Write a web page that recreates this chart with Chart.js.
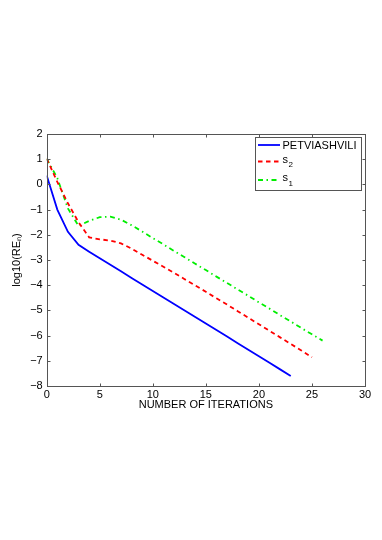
<!DOCTYPE html>
<html>
<head>
<meta charset="utf-8">
<script src="https://cdn.jsdelivr.net/npm/chart.js@4.4.0/dist/chart.umd.min.js"></script>
<style>
  html, body { margin: 0; padding: 0; background: #fff; }
</style>
</head>
<body>
<canvas id="errChart" width="382" height="540"></canvas>
<script>
// values
const iterations = [0, 1, 2, 3, 4, 5, 6, 7, 8, 9, 10, 11, 12, 13, 14, 15, 16, 17, 18, 19, 20, 21, 22, 23, 24, 25, 26];
const petviashvili = [0.35, -1.0, -1.88, -2.4, -2.67, -2.93, -3.19, -3.45, -3.71, -3.97, -4.23, -4.49, -4.75,
    -5.0, -5.26, -5.52, -5.78, -6.04, -6.3, -6.56, -6.82, -7.08, -7.34, -7.6];
const s2 = [1.02, 0.1, -0.75, -1.5, -2.1, -2.18, -2.23, -2.34, -2.55, -2.79, -3.03, -3.27, -3.51, -3.76,
    -4.01, -4.26, -4.52, -4.77, -5.03, -5.29, -5.55, -5.81, -6.07, -6.33, -6.59, -6.86];
const s1 = [1.02, 0.25, -0.95, -1.65, -1.45, -1.3, -1.28, -1.4, -1.62, -1.87, -2.13, -2.38, -2.64, -2.89,
    -3.15, -3.4, -3.66, -3.91, -4.17, -4.42, -4.68, -4.93, -5.19, -5.44, -5.7, -5.95, -6.2];
const xTicks = [0, 5, 10, 15, 20, 25, 30];
const yTicks = [-8, -7, -6, -5, -4, -3, -2, -1, 0, 1, 2];

const FONT = '"Liberation Sans", Arial, sans-serif';
const axisColor = '#555';

function toPoints(values) {
    return values.map((v, i) => ({ x: iterations[i], y: v }));
}

// matlab style box, inward ticks and legend inside the axes
const matlabBox = {
    id: 'matlabBox',
    afterDatasetsDraw(chart) {
        const { ctx, chartArea: a, scales } = chart;
        const L = Math.round(a.left) + 0.5, R = Math.round(a.right) + 0.5;
        const T = Math.round(a.top) + 0.5, B = Math.round(a.bottom) + 0.5;
        ctx.save();
        ctx.strokeStyle = axisColor;
        ctx.lineWidth = 1;
        ctx.strokeRect(L, T, R - L, B - T);
        ctx.beginPath();
        xTicks.forEach(v => {
            const px = Math.round(scales.x.getPixelForValue(v)) + 0.5;
            ctx.moveTo(px, B); ctx.lineTo(px, B - 3);
            ctx.moveTo(px, T); ctx.lineTo(px, T + 3);
        });
        yTicks.forEach(v => {
            const py = Math.round(scales.y.getPixelForValue(v)) + 0.5;
            ctx.moveTo(L, py); ctx.lineTo(L + 3, py);
            ctx.moveTo(R, py); ctx.lineTo(R - 3, py);
        });
        ctx.stroke();

        // legend
        const box = { x: 255.5, y: 137.5, w: 106, h: 53 };
        ctx.fillStyle = '#fff';
        ctx.fillRect(box.x, box.y, box.w, box.h);
        ctx.strokeRect(box.x, box.y, box.w, box.h);
        const rows = [145, 161.5, 180];
        chart.data.datasets.forEach((ds, i) => {
            const yy = rows[i];
            ctx.save();
            ctx.strokeStyle = ds.borderColor;
            ctx.lineWidth = ds.borderWidth;
            ctx.setLineDash(ds.borderDash || []);
            ctx.beginPath();
            ctx.moveTo(258, yy); ctx.lineTo(280, yy);
            ctx.stroke();
            ctx.restore();
            ctx.fillStyle = '#000';
            ctx.textBaseline = 'alphabetic';
            ctx.textAlign = 'left';
            if (ds.sub) {
                ctx.font = '11px ' + FONT;
                ctx.fillText(ds.base, 282.5, yy + 1);
                const w = ctx.measureText(ds.base).width;
                ctx.font = '8px ' + FONT;
                ctx.fillText(ds.sub, 282.5 + w + 0.5, yy + 5.5);
            } else {
                ctx.font = '11px ' + FONT;
                ctx.fillText(ds.label, 282.5, yy + 4);
            }
        });
        ctx.restore();
    }
};

const ctx = document.getElementById('errChart').getContext('2d');
new Chart(ctx, {
    type: 'line',
    data: {
        datasets: [
            {
                label: 'PETVIASHVILI',
                data: toPoints(petviashvili),
                borderColor: '#0000ff',
                borderWidth: 1.8
            },
            {
                label: 's₂', base: 's', sub: '2',
                data: toPoints(s2),
                borderColor: '#ff0000',
                borderWidth: 1.8,
                borderDash: [4.5, 3.5]
            },
            {
                label: 's₁', base: 's', sub: '1',
                data: toPoints(s1),
                borderColor: '#00ee00',
                borderWidth: 1.8,
                borderDash: [5, 3.5, 1.5, 3.5]
            }
        ]
    },
    options: {
        responsive: false,
        animation: false,
        devicePixelRatio: 1,
        layout: { padding: { top: 134, right: 17, bottom: 124, left: 0 } },
        elements: { point: { radius: 0 }, line: { tension: 0, fill: false } },
        plugins: { legend: { display: false }, tooltip: { enabled: false } },
        scales: {
            x: {
                type: 'linear', min: 0, max: 30,
                afterFit: s => { s.height = 30; },
                afterBuildTicks: s => { s.ticks = xTicks.map(v => ({ value: v })); },
                grid: { display: false, drawTicks: false },
                border: { display: false },
                ticks: { padding: 3, color: '#000', font: { family: FONT, size: 11, lineHeight: 1 } },
                title: {
                    display: true, text: 'NUMBER OF ITERATIONS', color: '#000',
                    font: { family: FONT, size: 11 }, padding: { top: 0, bottom: 4 }
                }
            },
            y: {
                type: 'linear', min: -8, max: 2,
                afterFit: s => { s.width = 46.7; },
                afterBuildTicks: s => { s.ticks = yTicks.map(v => ({ value: v })); },
                grid: { display: false, drawTicks: false },
                border: { display: false },
                ticks: {
                    padding: 4, color: '#000', font: { family: FONT, size: 11 },
                    callback: v => String(v).replace('-', '\u2212')
                },
                title: {
                    display: true, text: 'log10(REₙ)', color: '#000',
                    font: { family: FONT, size: 11 }, padding: { top: 10, bottom: 0 }
                }
            }
        }
    },
    plugins: [matlabBox]
});
</script>
</body>
</html>
